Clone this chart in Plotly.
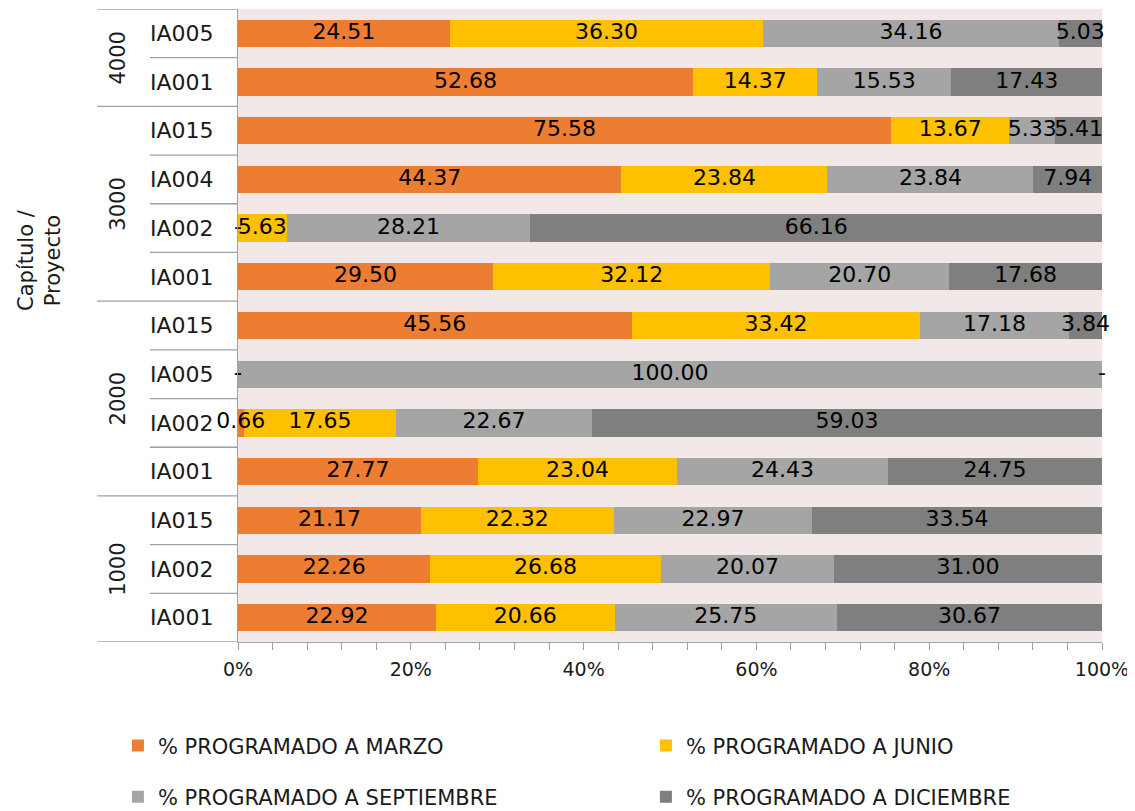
import plotly.graph_objects as go

capitulos = ["4000", "4000", "3000", "3000", "3000", "3000", "2000", "2000", "2000", "2000", "1000", "1000", "1000"]
proyectos = ["IA005", "IA001", "IA015", "IA004", "IA002", "IA001", "IA015", "IA005", "IA002", "IA001", "IA015", "IA002", "IA001"]
marzo = [24.51, 52.68, 75.58, 44.37, 0.00, 29.50, 45.56, 0.00, 0.66, 27.77, 21.17, 22.26, 22.92]
junio = [36.30, 14.37, 13.67, 23.84, 5.63, 32.12, 33.42, 0.00, 17.65, 23.04, 22.32, 26.68, 20.66]
septiembre = [34.16, 15.53, 5.33, 23.84, 28.21, 20.70, 17.18, 100.00, 22.67, 24.43, 22.97, 20.07, 25.75]
diciembre = [5.03, 17.43, 5.41, 7.94, 66.16, 17.68, 3.84, 0.00, 59.03, 24.75, 33.54, 31.00, 30.67]
x_ticks = [0, 20, 40, 60, 80, 100]
x_tick_labels = ["0%", "20%", "40%", "60%", "80%", "100%"]

series_names = ["% PROGRAMADO A MARZO", "% PROGRAMADO A JUNIO",
                "% PROGRAMADO A SEPTIEMBRE", "% PROGRAMADO A DICIEMBRE"]
series_vals = [marzo, junio, septiembre, diciembre]
colors = ["#ED7D31", "#FFC000", "#A5A5A5", "#7F7F7F"]
legend_ids = ["legend", "legend", "legend2", "legend2"]

FONT = "DejaVu Sans"
TXT = "#1a1a1a"
LINE = "#A0A0A0"

n = len(proyectos)
ypos = list(range(n))
totals = [sum(s[i] for s in series_vals) for i in range(n)]

fig = go.Figure()
for name, vals, col, lg in zip(series_names, series_vals, colors, legend_ids):
    fig.add_trace(go.Bar(
        x=vals, y=ypos, orientation="h", name=name,
        marker=dict(color=col, line=dict(width=0)),
        legend=lg, hoverinfo="x+name",
    ))

# data labels centred on each segment
lx, ly, lt = [], [], []
for i in range(n):
    cum = 0.0
    for vals in series_vals:
        v = vals[i] / totals[i] * 100
        lx.append(cum + v / 2)
        ly.append(i)
        lt.append(f"{vals[i]:.2f}" if vals[i] > 0 else "-")
        cum += v
fig.add_trace(go.Scatter(
    x=lx, y=ly, text=lt, mode="text", textposition="middle center",
    textfont=dict(family=FONT, size=22, color="#000000"),
    cliponaxis=False, showlegend=False, hoverinfo="skip",
))

# category table lines
X_GROUP = -0.163
X_INNER = -0.102
shapes = []
for b in range(n + 1):
    is_group = b == 0 or b == n or capitulos[b] != capitulos[b - 1]
    shapes.append(dict(type="line", xref="paper", yref="y",
                       x0=X_GROUP if is_group else X_INNER, x1=0,
                       y0=b - 0.5, y1=b - 0.5,
                       line=dict(color=LINE, width=1.3)))

annotations = []
seen = []
for c in capitulos:
    if c not in seen:
        seen.append(c)
for c in seen:
    idx = [i for i in range(n) if capitulos[i] == c]
    annotations.append(dict(xref="paper", yref="y", x=-0.139, y=sum(idx) / len(idx),
                            xanchor="center", yanchor="middle",
                            text=c, showarrow=False, textangle=-90,
                            font=dict(family=FONT, size=21, color=TXT)))
annotations.append(dict(xref="paper", yref="paper", x=-0.23, y=0.604,
                        xanchor="center", yanchor="middle",
                        text="Capítulo /<br>Proyecto", showarrow=False, textangle=-90,
                        font=dict(family=FONT, size=21, color=TXT)))

# page body has an 8px margin, so the figure is 8px smaller than the window
fig.update_layout(
    width=1127, height=803,
    margin=dict(l=230, r=33, t=1, b=169, autoexpand=False),
    barmode="stack", barnorm="percent", bargap=0.44,
    plot_bgcolor="#F3E8E8", paper_bgcolor="#FFFFFF",
    font=dict(family=FONT, color=TXT),
    shapes=shapes, annotations=annotations,
    xaxis=dict(range=[0, 100], tickvals=x_ticks, ticktext=x_tick_labels,
               showgrid=False, zeroline=False, showline=True, linecolor=LINE, linewidth=1.3,
               ticks="outside", ticklen=7, tickcolor=LINE, tickwidth=1.3,
               minor=dict(dtick=4, tick0=0, ticks="outside", ticklen=7, tickcolor=LINE, tickwidth=1.3, showgrid=False),
               ticklabelstandoff=3, automargin=False,
               tickfont=dict(family=FONT, size=19, color=TXT), fixedrange=True),
    yaxis=dict(range=[n - 0.5, -0.5], tickvals=ypos, ticktext=proyectos,
               showgrid=False, zeroline=False, showline=True, linecolor=LINE, linewidth=1.3,
               ticks="", ticklabelstandoff=19, automargin=False,
               tickfont=dict(family=FONT, size=22, color=TXT), fixedrange=True),
    legend=dict(orientation="h", x=-0.139, xanchor="left", y=-0.164, yanchor="middle",
                entrywidth=483, entrywidthmode="pixels", traceorder="normal",
                font=dict(family=FONT, size=21, color=TXT), bgcolor="rgba(0,0,0,0)"),
    legend2=dict(orientation="h", x=-0.139, xanchor="left", y=-0.245, yanchor="middle",
                 entrywidth=483, entrywidthmode="pixels", traceorder="normal",
                 font=dict(family=FONT, size=21, color=TXT), bgcolor="rgba(0,0,0,0)"),
)

fig.write_html("out.html")
